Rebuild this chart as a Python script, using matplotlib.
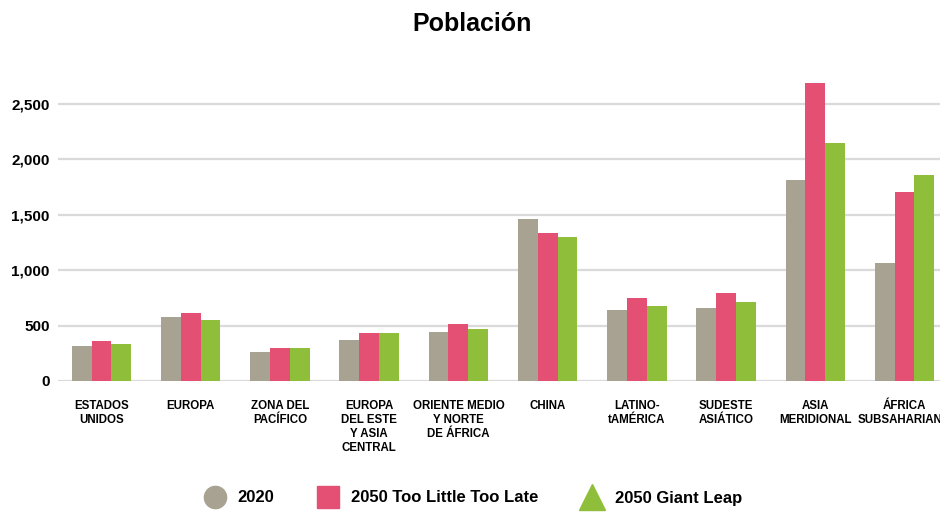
import matplotlib
matplotlib.use("Agg")
import matplotlib.pyplot as plt
from matplotlib.lines import Line2D
import numpy as np

plt.rcParams['font.family'] = ['Liberation Sans', 'DejaVu Sans']
plt.rcParams['font.weight'] = 'bold'

regions = ["ESTADOS\nUNIDOS", "EUROPA", "ZONA DEL\nPACÍFICO", "EUROPA\nDEL ESTE\nY ASIA\nCENTRAL",
           "ORIENTE MEDIO\nY NORTE\nDE ÁFRICA", "CHINA", "LATINO-\ntAMÉRICA", "SUDESTE\nASIÁTICO",
           "ASIA\nMERIDIONAL", "ÁFRICA\nSUBSAHARIANA"]
pop_2020 = [320, 575, 260, 370, 440, 1460, 640, 660, 1810, 1060]
pop_tltl = [360, 610, 295, 430, 510, 1330, 750, 790, 2690, 1700]
pop_gl = [330, 550, 295, 435, 470, 1300, 680, 710, 2150, 1860]
series_names = ["2020", "2050 Too Little Too Late", "2050 Giant Leap"]

c_gray = '#a8a292'
c_pink = '#e35073'
c_green = '#8fbf3a'

fig = plt.figure(figsize=(9.4, 5.12), dpi=100)
# axes intentionally runs a little past the right edge (reference is cropped)
ax = fig.add_axes([58/940, 131/512, (948-58)/940, (436-131)/512])

x = np.arange(len(regions))
w = 0.222
ax.bar(x - w, pop_2020, w, color=c_gray, zorder=3)
ax.bar(x, pop_tltl, w, color=c_pink, zorder=3)
ax.bar(x + w, pop_gl, w, color=c_green, zorder=3)

ax.set_xlim(-0.488, 9.488)
ax.set_ylim(0, 2750)
ax.set_yticks([0, 500, 1000, 1500, 2000, 2500])
ax.set_yticklabels(['0', '500', '1,000', '1,500', '2,000', '2,500'], fontsize=11, fontweight='bold')
ax.yaxis.grid(True, color='#dadada', linewidth=1.6, zorder=0)
ax.set_xticks(x)
ax.set_xticklabels(regions, fontsize=8.3, fontweight='bold', linespacing=1.2)
ax.tick_params(axis='x', length=0, pad=14)
ax.tick_params(axis='y', length=0, pad=6)
for s in ax.spines.values():
    s.set_visible(False)

fig.text(472/940, 1 - 24/512, "Población", ha='center', va='center', fontsize=18, fontweight='bold')

handles = [Line2D([], [], marker='o', linestyle='none', color=c_gray, markersize=16),
           Line2D([], [], marker='s', linestyle='none', color=c_pink, markersize=16),
           Line2D([], [], marker='^', linestyle='none', color=c_green, markersize=19)]
fig.legend(handles, series_names, loc='center', bbox_to_anchor=(472/940, 1 - 498/512), ncol=3,
           frameon=False, prop={'size': 12, 'weight': 'bold'}, handletextpad=0.6,
           columnspacing=2.5, handlelength=1.5)

plt.savefig('out.png', dpi=100)
